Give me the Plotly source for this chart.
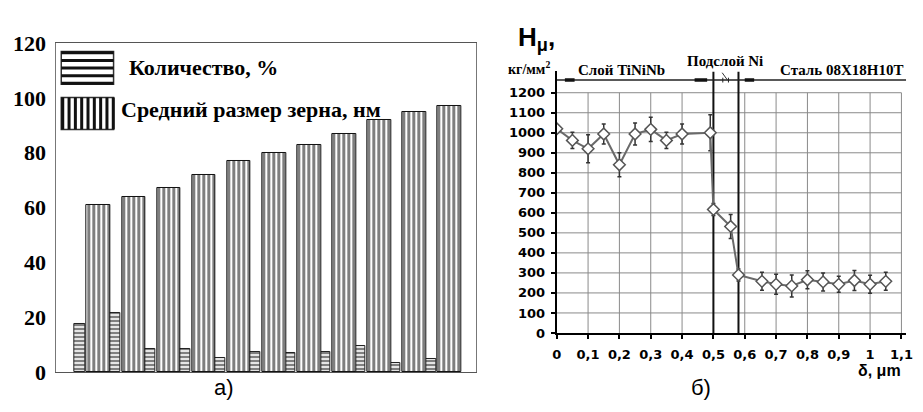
import plotly.graph_objects as go

# ---------------- Panel a) data ----------------
groups = list(range(11))
count_pct = [17.7, 21.5, 8.6, 8.3, 5.2, 7.5, 7.1, 7.5, 9.4, 3.5, 4.9]
grain_nm = [61, 64, 67, 72, 77, 80, 83, 87, 92, 95, 97]
a_yticks = [0, 20, 40, 60, 80, 100, 120]
legend_a = ["Количество, %", "Средний размер зерна, нм"]

# ---------------- Panel b) data ----------------
depth_um = [0, 0.05, 0.1, 0.15, 0.2, 0.25, 0.3, 0.35, 0.4, 0.49, 0.5, 0.555,
            0.58, 0.655, 0.7, 0.75, 0.8, 0.85, 0.9, 0.95, 1.0, 1.05]
hardness = [1020, 962, 920, 994, 840, 994, 1017, 962, 994, 1000, 617, 532,
            290, 258, 243, 235, 266, 255, 243, 262, 243, 258]
hard_err = [20, 40, 70, 50, 60, 55, 60, 40, 50, 90, 30, 60,
            30, 45, 50, 55, 45, 45, 40, 50, 45, 45]
b_xticks = [0, 0.1, 0.2, 0.3, 0.4, 0.5, 0.6, 0.7, 0.8, 0.9, 1.0, 1.1]
b_xlabels = ["0", "0,1", "0,2", "0,3", "0,4", "0,5", "0,6", "0,7", "0,8", "0,9", "1", "1,1"]
b_yticks = [0, 100, 200, 300, 400, 500, 600, 700, 800, 900, 1000, 1100, 1200]
layer_bounds = [0.5, 0.58]
band_level = 1263
region_labels = ["Слой TiNiNb", "Подслой Ni", "Сталь 08Х18Н10Т"]

W, H = 923, 412
def px(x):
    return x / W
def py(y):
    return 1 - y / H

fig = go.Figure()

# Panel a bars
fig.add_trace(go.Bar(
    x=groups, y=count_pct, offset=-0.71, width=0.33,
    marker=dict(color="white", line=dict(color="#222", width=1),
                pattern=dict(shape="-", fgcolor="black", bgcolor="white", size=4, solidity=0.6)),
    showlegend=False, xaxis="x", yaxis="y"))
fig.add_trace(go.Bar(
    x=groups, y=grain_nm, offset=-0.34, width=0.68,
    marker=dict(color="white", line=dict(color="#111", width=1),
                pattern=dict(shape="|", fgcolor="black", bgcolor="white", size=5, solidity=0.6)),
    showlegend=False, xaxis="x", yaxis="y"))

# Panel b line with error bars
fig.add_trace(go.Scatter(
    x=depth_um, y=hardness, mode="lines+markers",
    line=dict(color="#6a6a6a", width=2),
    marker=dict(symbol="diamond", size=9, color="white", line=dict(color="#555", width=1.5)),
    error_y=dict(type="data", array=hard_err, visible=True, color="#333", thickness=1.5, width=2),
    showlegend=False, xaxis="x2", yaxis="y2"))

shapes = []
# grid for panel b (bounded to 1200 / 1.1)
for xv in b_xticks[1:]:
    shapes.append(dict(type="line", xref="x2", yref="y2", x0=xv, x1=xv, y0=0, y1=b_yticks[-1],
                       line=dict(color="#8a8a8a", width=1), layer="below"))
for yv in b_yticks[1:]:
    shapes.append(dict(type="line", xref="x2", yref="y2", x0=0, x1=b_xticks[-1], y0=yv, y1=yv,
                       line=dict(color="#8a8a8a", width=1), layer="below"))
# layer boundaries
for xb in layer_bounds:
    shapes.append(dict(type="line", xref="x2", yref="y2", x0=xb, x1=xb, y0=0, y1=1305,
                       line=dict(color="#111", width=2), layer="below"))
# region band line
shapes.append(dict(type="line", xref="x2", yref="y2", x0=0, x1=1.115, y0=band_level, y1=band_level,
                   line=dict(color="#222", width=1.5)))
for a0, a1 in [(0.026, 0.057), (0.44, 0.48), (0.60, 0.63)]:
    shapes.append(dict(type="line", xref="x2", yref="y2", x0=a0, x1=a1, y0=band_level, y1=band_level,
                       line=dict(color="#111", width=3.5)))
for xt in [0.53, 0.548]:
    shapes.append(dict(type="line", xref="x2", yref="y2", x0=xt, x1=xt, y0=band_level - 12, y1=band_level + 12,
                       line=dict(color="#222", width=1)))
shapes.append(dict(type="line", xref="x2", yref="y2", x0=0.528, x1=0.545, y0=1300, y1=band_level,
                   line=dict(color="#333", width=1)))

# custom legend symbols for panel a
lx0, lx1 = 57, 110
# symbol 1: horizontal stripes
shapes.append(dict(type="rect", xref="paper", yref="paper", x0=px(lx0), x1=px(lx1), y0=py(77), y1=py(42),
                   line=dict(color="#333", width=1.5), fillcolor="white"))
for i in range(5):
    yy = 43.5 + i * 8.1
    shapes.append(dict(type="line", xref="paper", yref="paper", x0=px(lx0), x1=px(lx1), y0=py(yy), y1=py(yy),
                       line=dict(color="#111", width=3)))
# symbol 2: vertical stripes
shapes.append(dict(type="rect", xref="paper", yref="paper", x0=px(lx0), x1=px(lx1), y0=py(125), y1=py(91),
                   line=dict(color="#333", width=1.5), fillcolor="white"))
for i in range(9):
    xx = 58.5 + i * 6.4
    shapes.append(dict(type="line", xref="paper", yref="paper", x0=px(xx), x1=px(xx), y0=py(125), y1=py(91),
                       line=dict(color="#111", width=3)))

serif_b = dict(family="Liberation Serif", color="black", weight="bold")
annotations = [
    dict(text=legend_a[0], x=px(124), y=py(59), xanchor="left", yanchor="middle",
         font=dict(size=22, **serif_b)),
    dict(text=legend_a[1], x=px(115), y=py(104), xanchor="left", yanchor="middle",
         font=dict(size=22, **serif_b)),
    dict(text="а)", x=px(222), y=py(400), font=dict(family="Liberation Sans", size=22, color="black")),
    dict(text="б)", x=px(705), y=py(400), font=dict(family="Liberation Sans", size=22, color="black")),
    dict(text="H<sub>μ</sub>,", x=px(539), y=py(28), font=dict(family="Liberation Sans", size=26, color="black", weight="bold")),
    dict(text="кг/мм<sup>2</sup>", x=px(531), y=py(60), font=dict(size=14, **serif_b)),
    dict(text=region_labels[0], x=px(625), y=py(62), font=dict(size=15, **serif_b)),
    dict(text=region_labels[1], x=px(729), y=py(52), font=dict(size=15, **serif_b)),
    dict(text=region_labels[2], x=px(848), y=py(62), font=dict(size=15, **serif_b)),
    dict(text="δ, μm", x=px(886), y=py(382), borderpad=0,
         font=dict(family="Liberation Sans", size=16, color="black", weight="bold")),
]
for a in annotations:
    a.update(xref="paper", yref="paper", showarrow=False)
    a.setdefault("xanchor", "center")
    a.setdefault("yanchor", "middle")

fig.update_layout(
    width=W, height=H, margin=dict(l=0, r=0, t=0, b=0),
    paper_bgcolor="white", plot_bgcolor="white",
    barmode="overlay", bargap=0,
    shapes=shapes, annotations=annotations,
    xaxis=dict(domain=[px(52), px(477)], range=[-1.21, 10.76], anchor="y",
               showticklabels=False, showgrid=False, zeroline=False, ticks="",
               showline=True, mirror=True, linecolor="#555", linewidth=1),
    yaxis=dict(domain=[py(383.5), py(33)], range=[0, 120], anchor="x",
               tickvals=a_yticks, ticks="", ticklabelstandoff=5,
               tickfont=dict(family="Liberation Serif", size=22, color="black", weight="bold"),
               showgrid=False, zeroline=False,
               showline=True, mirror=True, linecolor="#777", linewidth=1),
    xaxis2=dict(domain=[px(559), px(913)], range=[0, 1.115], anchor="y2",
                tickvals=b_xticks, ticktext=b_xlabels, ticks="outside", ticklen=4,
                tickwidth=1.5, tickcolor="black", ticklabelstandoff=4,
                tickfont=dict(family="DejaVu Sans", size=13, color="black", weight="bold"),
                showgrid=False, zeroline=False, showline=True, linecolor="black", linewidth=2),
    yaxis2=dict(domain=[py(341.7), py(62.5)], range=[0, 1310], anchor="x2",
                tickvals=b_yticks, ticks="outside", ticklen=4, tickwidth=1.5, tickcolor="black",
                ticklabelstandoff=3,
                tickfont=dict(family="DejaVu Sans", size=13, color="black", weight="bold"),
                showgrid=False, zeroline=False, showline=True, linecolor="black", linewidth=2),
)

fig.write_html("out.html")
